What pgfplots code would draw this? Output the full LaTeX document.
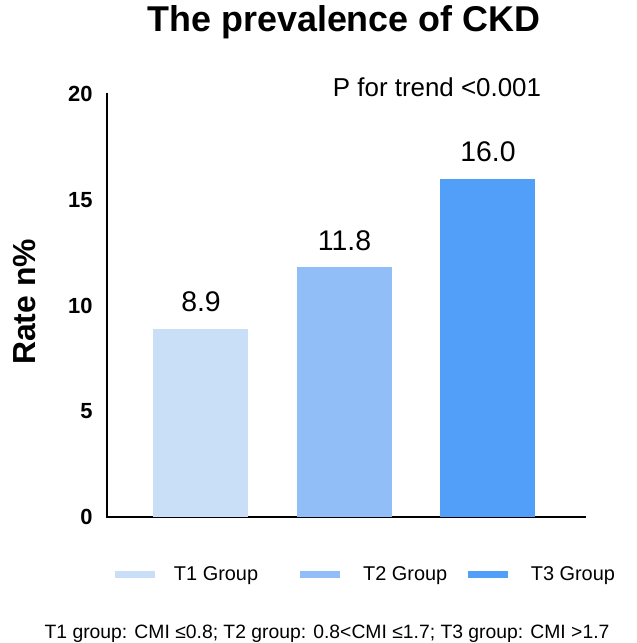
\documentclass[border=0pt]{standalone}
\usepackage{fontspec}
\setmainfont{Liberation Sans}
\usepackage{pgfplots}
\pgfplotsset{compat=1.18}

\definecolor{tone}{HTML}{C9DFF7}
\definecolor{ttwo}{HTML}{91BEF6}
\definecolor{tthree}{HTML}{529FFA}

\newcommand{\fs}[1]{\fontsize{#1}{#1}\selectfont}

\begin{document}
\begin{tikzpicture}
% page frame
\path[use as bounding box] (0bp,0bp) rectangle (637bp,643bp);

\begin{axis}[
  at={(107bp,126bp)}, anchor=south west,
  scale only axis, width=478bp, height=423bp,
  ybar, bar width=95bp,
  xmin=-0.655, xmax=2.676, ymin=0, ymax=20,
  axis x line=bottom, axis y line=left,
  axis line style={-, line width=2.6bp, line cap=rect},
  xtick=\empty, ytick={0,5,10,15,20},
  major tick length=0pt,
  /pgf/number format/assume math mode=true,
  yticklabel style={font=\fs{22}\bfseries, xshift=-11bp},
  clip=false,
  nodes near coords={\pgfmathprintnumber[fixed,fixed zerofill,precision=1]{\pgfplotspointmeta}},
  every node near coord/.append style={font=\fs{28.5}, anchor=base, inner sep=0pt, yshift=17bp},
  legend columns=3,
  legend style={draw=none, fill=none, inner sep=0pt, outer sep=0pt,
    at={(axis description cs:0.0094,-0.1348)}, anchor=west,
    column sep=0pt, font=\fs{20},
    nodes={inner sep=0pt, anchor=west}},
]
\addplot[fill=tone, draw=none, bar shift=0pt,
  legend image code/.code={\draw[tone, line width=7bp] (0bp,0bp) -- (40bp,0bp);}]
  coordinates {(0,8.9)};
\addlegendentry{\hspace*{15.5bp}T1 Group\hspace*{38.5bp}\mbox{}}
\addplot[fill=ttwo, draw=none, bar shift=0pt,
  legend image code/.code={\draw[ttwo, line width=7bp] (0bp,0bp) -- (40bp,0bp);}]
  coordinates {(1,11.8)};
\addlegendentry{\hspace*{19.5bp}T2 Group\hspace*{17bp}\mbox{}}
\addplot[fill=tthree, draw=none, bar shift=0pt,
  legend image code/.code={\draw[tthree, line width=7bp] (0bp,0bp) -- (40bp,0bp);}]
  coordinates {(2,16.0)};
\addlegendentry{\hspace*{19.5bp}T3 Group}
\end{axis}

% titles and notes
\node[anchor=base, inner sep=0pt, font=\fs{36}\bfseries] at (344bp,611bp) {The prevalence of CKD};
\node[anchor=base, inner sep=0pt, font=\fs{26}] at (437bp,546bp) {P for trend <0.001};
\node[rotate=90, inner sep=0pt, font=\fs{32}\bfseries] at (25bp,341bp) {Rate n\%};
\node[anchor=base, inner sep=0pt, font=\fs{19.4}] at (327bp,5bp) {T1 group: CMI ≤0.8; T2 group: 0.8<CMI ≤1.7; T3 group: CMI >1.7};
\end{tikzpicture}
\end{document}
